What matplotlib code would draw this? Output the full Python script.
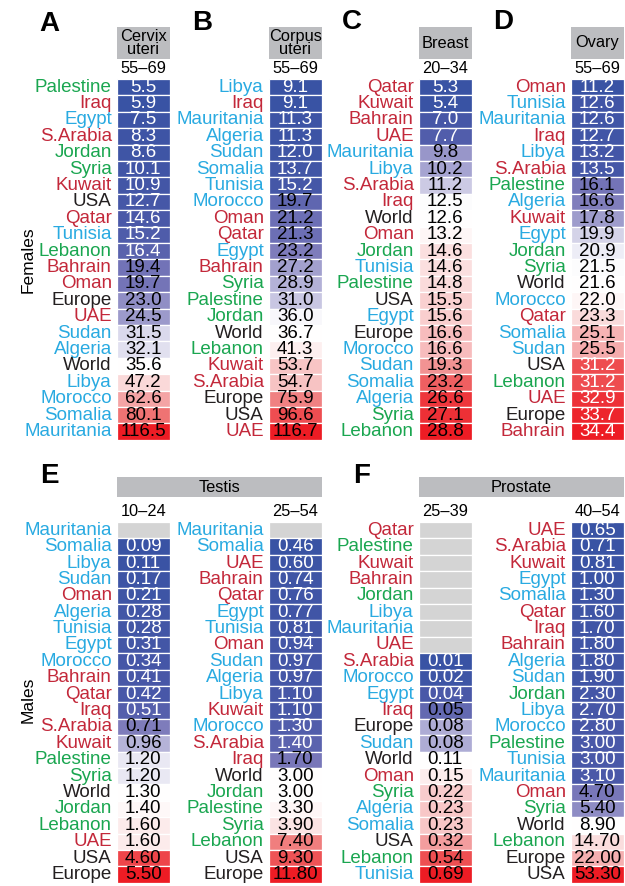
import numpy as np
import matplotlib
matplotlib.use('Agg')
import matplotlib.pyplot as plt
from matplotlib.colors import LinearSegmentedColormap, TwoSlopeNorm

plt.rcParams['font.family'] = ['Liberation Sans', 'DejaVu Sans']

nan = np.nan

# ---- data -------------------------------------------------------------
a_names = ['Palestine', 'Iraq', 'Egypt', 'S.Arabia', 'Jordan', 'Syria', 'Kuwait',
           'USA', 'Qatar', 'Tunisia', 'Lebanon', 'Bahrain', 'Oman', 'Europe',
           'UAE', 'Sudan', 'Algeria', 'World', 'Libya', 'Morocco', 'Somalia',
           'Mauritania']
a_vals = [5.5, 5.9, 7.5, 8.3, 8.6, 10.1, 10.9, 12.7, 14.6, 15.2, 16.4, 19.4,
          19.7, 23.0, 24.5, 31.5, 32.1, 35.6, 47.2, 62.6, 80.1, 116.5]

b_names = ['Libya', 'Iraq', 'Mauritania', 'Algeria', 'Sudan', 'Somalia',
           'Tunisia', 'Morocco', 'Oman', 'Qatar', 'Egypt', 'Bahrain', 'Syria',
           'Palestine', 'Jordan', 'World', 'Lebanon', 'Kuwait', 'S.Arabia',
           'Europe', 'USA', 'UAE']
b_vals = [9.1, 9.1, 11.3, 11.3, 12.0, 13.7, 15.2, 19.7, 21.2, 21.3, 23.2, 27.2,
          28.9, 31.0, 36.0, 36.7, 41.3, 53.7, 54.7, 75.9, 96.6, 116.7]

c_names = ['Qatar', 'Kuwait', 'Bahrain', 'UAE', 'Mauritania', 'Libya',
           'S.Arabia', 'Iraq', 'World', 'Oman', 'Jordan', 'Tunisia', 'Palestine',
           'USA', 'Egypt', 'Europe', 'Morocco', 'Sudan', 'Somalia', 'Algeria',
           'Syria', 'Lebanon']
c_vals = [5.3, 5.4, 7.0, 7.7, 9.8, 10.2, 11.2, 12.5, 12.6, 13.2, 14.6, 14.6,
          14.8, 15.5, 15.6, 16.6, 16.6, 19.3, 23.2, 26.6, 27.1, 28.8]

d_names = ['Oman', 'Tunisia', 'Mauritania', 'Iraq', 'Libya', 'S.Arabia',
           'Palestine', 'Algeria', 'Kuwait', 'Egypt', 'Jordan', 'Syria', 'World',
           'Morocco', 'Qatar', 'Somalia', 'Sudan', 'USA', 'Lebanon', 'UAE',
           'Europe', 'Bahrain']
d_vals = [11.2, 12.6, 12.6, 12.7, 13.2, 13.5, 16.1, 16.6, 17.8, 19.9, 20.9,
          21.5, 21.6, 22.0, 23.3, 25.1, 25.5, 31.2, 31.2, 32.9, 33.7, 34.4]

e1_names = ['Mauritania', 'Somalia', 'Libya', 'Sudan', 'Oman', 'Algeria',
            'Tunisia', 'Egypt', 'Morocco', 'Bahrain', 'Qatar', 'Iraq',
            'S.Arabia', 'Kuwait', 'Palestine', 'Syria', 'World', 'Jordan',
            'Lebanon', 'UAE', 'USA', 'Europe']
e1_vals = [nan, 0.09, 0.11, 0.17, 0.21, 0.28, 0.28, 0.31, 0.34, 0.41, 0.42,
           0.51, 0.71, 0.96, 1.20, 1.20, 1.30, 1.40, 1.60, 1.60, 4.60, 5.50]

e2_names = ['Mauritania', 'Somalia', 'UAE', 'Bahrain', 'Qatar', 'Egypt',
            'Tunisia', 'Oman', 'Sudan', 'Algeria', 'Libya', 'Kuwait', 'Morocco',
            'S.Arabia', 'Iraq', 'World', 'Jordan', 'Palestine', 'Syria',
            'Lebanon', 'USA', 'Europe']
e2_vals = [nan, 0.46, 0.60, 0.74, 0.76, 0.77, 0.81, 0.94, 0.97, 0.97, 1.10,
           1.10, 1.30, 1.40, 1.70, 3.00, 3.00, 3.30, 3.90, 7.40, 9.30, 11.80]

f1_names = ['Qatar', 'Palestine', 'Kuwait', 'Bahrain', 'Jordan', 'Libya',
            'Mauritania', 'UAE', 'S.Arabia', 'Morocco', 'Egypt', 'Iraq',
            'Europe', 'Sudan', 'World', 'Oman', 'Syria', 'Algeria', 'Somalia',
            'USA', 'Lebanon', 'Tunisia']
f1_vals = [nan, nan, nan, nan, nan, nan, nan, nan, 0.01, 0.02, 0.04, 0.05,
           0.08, 0.08, 0.11, 0.15, 0.22, 0.23, 0.23, 0.32, 0.54, 0.69]

f2_names = ['UAE', 'S.Arabia', 'Kuwait', 'Egypt', 'Somalia', 'Qatar', 'Iraq',
            'Bahrain', 'Algeria', 'Sudan', 'Jordan', 'Libya', 'Morocco',
            'Palestine', 'Tunisia', 'Mauritania', 'Oman', 'Syria', 'World',
            'Lebanon', 'Europe', 'USA']
f2_vals = [0.65, 0.71, 0.81, 1.00, 1.30, 1.60, 1.70, 1.80, 1.80, 1.90, 2.30,
           2.70, 2.80, 3.00, 3.00, 3.10, 4.70, 5.40, 8.90, 14.70, 22.00, 53.30]

levant = ['Palestine', 'Jordan', 'Syria', 'Lebanon']
gulf = ['Iraq', 'S.Arabia', 'Kuwait', 'Qatar', 'Bahrain', 'Oman', 'UAE']
north_africa = ['Egypt', 'Tunisia', 'Sudan', 'Algeria', 'Libya', 'Morocco',
                'Somalia', 'Mauritania']

# ---- style ------------------------------------------------------------
W, H = 625, 886
ROW = 16.4
CW = 52.5
GREEN, RED, BLUE, BLACK = '#1aa650', '#c3283a', '#29aae1', '#231f20'
HEAD_GRAY = '#bcbdc0'
NA_GRAY = '#d4d4d4'

cmap = LinearSegmentedColormap.from_list('bwr_custom', [
    (0.0, '#3953a4'), (0.15, '#4a58a8'), (0.25, '#7b79ba'), (0.35, '#afadd5'),
    (0.5, '#ffffff'), (0.57, '#fadada'), (0.665, '#f4a5a6'), (0.775, '#ef7474'),
    (1.0, '#ed1c24')])


def name_color(name):
    if name in levant:
        return GREEN
    if name in gulf:
        return RED
    if name in north_africa:
        return BLUE
    return BLACK


def fig_rect(x, y, w, h):
    # pixel box (top-left origin) -> figure fraction
    return [x / W, 1 - (y + h) / H, w / W, h / H]


fig = plt.figure(figsize=(W / 100, H / 100), dpi=100)


def column(x, y_top, names, vals, age, fmt, white_red=False):
    vals = np.array(vals, dtype=float)
    n = len(names)
    ax = fig.add_axes(fig_rect(x, y_top, CW, n * ROW))
    world = vals[names.index('World')]
    norm = TwoSlopeNorm(vcenter=world, vmin=np.nanmin(vals), vmax=np.nanmax(vals))
    colors = [NA_GRAY if np.isnan(v) else cmap(norm(v)) for v in vals]
    ax.barh(np.arange(n), 1, height=1, left=0, color=colors,
            edgecolor='white', linewidth=0.9)
    for i, (nm, v) in enumerate(zip(names, vals)):
        ax.text(-0.1, i, nm, ha='right', va='center', fontsize=13.5,
                color=name_color(nm))
        if np.isnan(v):
            continue
        t = abs(norm(v) - 0.5) * 2
        txt = 'black'
        if v < world and t > 0.625:
            txt = 'white'
        if white_red and v > world and t > 0.6:
            txt = 'white'
        ax.text(0.5, i, fmt.format(v), ha='center', va='center', fontsize=13.5,
                color=txt)
    ax.text(0.5, -1.15, age, ha='center', va='center', fontsize=11.8)
    ax.set_xlim(0, 1)
    ax.set_ylim(n - 0.5, -0.5)
    ax.axis('off')
    return ax


def header(x, y, w, h, label):
    hx = fig.add_axes(fig_rect(x, y, w, h))
    hx.set_facecolor(HEAD_GRAY)
    hx.tick_params(labelbottom=0, labelleft=0, bottom=0, left=0)
    for s in hx.spines.values():
        s.set_visible(False)
    hx.text(0.5, 0.5, label, ha='center', va='center', fontsize=11.8,
            linespacing=0.85, transform=hx.transAxes)


# top row: females
xs = [117, 269, 419, 571]
top_y, bot_y = 79, 522
top_cols = [(a_names, a_vals, 'Cervix\nuteri'), (b_names, b_vals, 'Corpus\nuteri'),
            (c_names, c_vals, 'Breast'), (d_names, d_vals, 'Ovary')]
top_ages = ['55–69', '55–69', '20–34', '55–69']
for k, ((nm, vl, site), age) in enumerate(zip(top_cols, top_ages)):
    column(xs[k], top_y, nm, vl, age, '{:.1f}', white_red=(k == 3))
    header(xs[k], 27, CW, 32, site)

# bottom row: males
column(xs[0], bot_y, e1_names, e1_vals, '10–24', '{:.2f}')
column(xs[1], bot_y, e2_names, e2_vals, '25–54', '{:.2f}')
column(xs[2], bot_y, f1_names, f1_vals, '25–39', '{:.2f}')
column(xs[3], bot_y, f2_names, f2_vals, '40–54', '{:.2f}')
header(xs[0], 477, xs[1] + CW - xs[0], 20, 'Testis')
header(xs[2], 477, xs[3] + CW - xs[2], 20, 'Prostate')

# panel letters and side labels
for letter, (px, py) in zip('ABCDEF', [(49, 24), (202, 23), (352, 22),
                                       (503, 22), (49, 476), (362, 476)]):
    fig.text(px / W, 1 - py / H, letter, ha='center', va='center',
             fontsize=20, fontweight='bold')
fig.text(28 / W, 1 - 260 / H, 'Females', rotation=90, ha='center',
         va='center', fontsize=12.5)
fig.text(28 / W, 1 - 700 / H, 'Males', rotation=90, ha='center',
         va='center', fontsize=12.5)

fig.savefig('out.png', dpi=100)
